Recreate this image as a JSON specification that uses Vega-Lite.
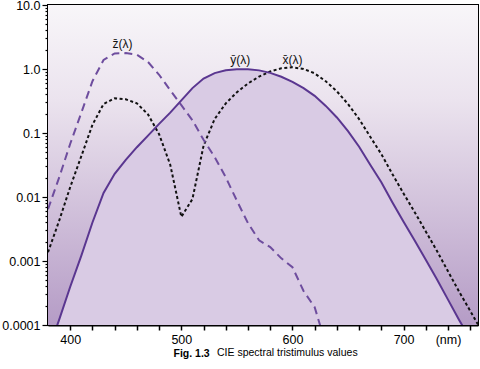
{
  "$schema": "https://vega.github.io/schema/vega-lite/v6.json",
  "width": 430,
  "height": 320,
  "autosize": {"type": "none"},
  "padding": {"left": 48, "top": 5, "right": 2, "bottom": 44},
  "background": "white",
  "config": {
    "view": {"stroke": "black", "strokeWidth": 2},
    "font": "Liberation Sans"
  },
  "title": {
    "text": "CIE spectral tristimulus values",
    "orient": "bottom",
    "anchor": "start",
    "frame": "group",
    "dx": 169,
    "dy": -3,
    "offset": 0,
    "fontSize": 10.5,
    "fontWeight": "normal",
    "color": "black",
    "baseline": "alphabetic"
  },
  "data": {
    "values": [
      {"nm": 380, "x": 0.001368, "y": 0.000039, "z": 0.00645},
      {"nm": 390, "x": 0.004243, "y": 0.00012, "z": 0.02005},
      {"nm": 400, "x": 0.01431, "y": 0.000396, "z": 0.06785},
      {"nm": 410, "x": 0.04351, "y": 0.00121, "z": 0.2074},
      {"nm": 420, "x": 0.13438, "y": 0.004, "z": 0.6456},
      {"nm": 430, "x": 0.2839, "y": 0.0116, "z": 1.3856},
      {"nm": 440, "x": 0.34828, "y": 0.023, "z": 1.74706},
      {"nm": 450, "x": 0.3362, "y": 0.038, "z": 1.77211},
      {"nm": 460, "x": 0.2908, "y": 0.06, "z": 1.6692},
      {"nm": 470, "x": 0.19536, "y": 0.09098, "z": 1.28764},
      {"nm": 480, "x": 0.09564, "y": 0.13902, "z": 0.81295},
      {"nm": 490, "x": 0.03201, "y": 0.20802, "z": 0.46518},
      {"nm": 500, "x": 0.0049, "y": 0.323, "z": 0.272},
      {"nm": 510, "x": 0.0093, "y": 0.503, "z": 0.1582},
      {"nm": 520, "x": 0.06327, "y": 0.71, "z": 0.07825},
      {"nm": 530, "x": 0.1655, "y": 0.862, "z": 0.04216},
      {"nm": 540, "x": 0.2904, "y": 0.954, "z": 0.0203},
      {"nm": 550, "x": 0.43345, "y": 0.99495, "z": 0.00875},
      {"nm": 560, "x": 0.5945, "y": 0.995, "z": 0.0039},
      {"nm": 570, "x": 0.7621, "y": 0.952, "z": 0.0021},
      {"nm": 580, "x": 0.9163, "y": 0.87, "z": 0.00165},
      {"nm": 590, "x": 1.0263, "y": 0.757, "z": 0.0011},
      {"nm": 600, "x": 1.0622, "y": 0.631, "z": 0.0008},
      {"nm": 610, "x": 1.0026, "y": 0.503, "z": 0.00034},
      {"nm": 620, "x": 0.85445, "y": 0.381, "z": 0.00019},
      {"nm": 630, "x": 0.6424, "y": 0.265, "z": 0.00005},
      {"nm": 640, "x": 0.4479, "y": 0.175, "z": 0.00002},
      {"nm": 650, "x": 0.2835, "y": 0.107, "z": null},
      {"nm": 660, "x": 0.1649, "y": 0.061, "z": null},
      {"nm": 670, "x": 0.0874, "y": 0.032, "z": null},
      {"nm": 680, "x": 0.04677, "y": 0.017, "z": null},
      {"nm": 690, "x": 0.0227, "y": 0.00821, "z": null},
      {"nm": 700, "x": 0.011359, "y": 0.004102, "z": null},
      {"nm": 710, "x": 0.00579, "y": 0.002091, "z": null},
      {"nm": 720, "x": 0.002899, "y": 0.001047, "z": null},
      {"nm": 730, "x": 0.00144, "y": 0.00052, "z": null},
      {"nm": 740, "x": 0.00069, "y": 0.000249, "z": null},
      {"nm": 750, "x": 0.000332, "y": 0.00012, "z": null},
      {"nm": 760, "x": 0.000166, "y": 0.00006, "z": null},
      {"nm": 770, "x": 0.000083, "y": 0.00003, "z": null}
    ]
  },
  "layer": [
    {
      "data": {"values": [{"band": "plot"}]},
      "mark": {
        "type": "rect",
        "color": {
          "gradient": "linear",
          "x1": 0, "y1": 0, "x2": 0, "y2": 1,
          "stops": [
            {"offset": 0, "color": "#f8f6f9"},
            {"offset": 0.3, "color": "#ebe3ee"},
            {"offset": 1, "color": "#b59cc6"}
          ]
        }
      },
      "encoding": {}
    },
    {
      "mark": {"type": "area", "color": "#d9cbe4", "clip": true},
      "encoding": {
        "x": {
          "field": "nm",
          "type": "quantitative",
          "scale": {"domain": [380, 767], "nice": false, "zero": false},
          "axis": {
            "values": [400, 420, 440, 460, 480, 500, 520, 540, 560, 580, 600, 620, 640, 660, 680, 700, 720, 740, 760],
            "tickCount": 200,
            "format": "d",
            "labelExpr": "datum.value == 740 ? '(nm)' : (datum.value % 100 == 0 ? datum.label : '')",
            "labelFlush": false,
            "labelOverlap": false,
            "labelFontSize": 12.5,
            "labelColor": "black",
            "labelPadding": 3,
            "tickSize": 5,
            "tickColor": "black",
            "tickWidth": 1.5,
            "domainColor": "black",
            "domainWidth": 2,
            "grid": false,
            "title": "Fig. 1.3",
            "titleFontWeight": "bold",
            "titleFontSize": 10.5,
            "titleColor": "black",
            "titleAnchor": "start",
            "titleAlign": "left",
            "titleX": 125,
            "titleY": 31,
            "titleBaseline": "alphabetic"
          }
        },
        "y": {
          "field": "y",
          "type": "quantitative",
          "scale": {"type": "log", "domain": [0.0001, 10], "nice": false},
          "axis": {
            "values": [0.0001, 0.0002, 0.0003, 0.0004, 0.0005, 0.0006, 0.0007, 0.0008, 0.0009,
                       0.001, 0.002, 0.003, 0.004, 0.005, 0.006, 0.007, 0.008, 0.009,
                       0.01, 0.02, 0.03, 0.04, 0.05, 0.06, 0.07, 0.08, 0.09,
                       0.1, 0.2, 0.3, 0.4, 0.5, 0.6, 0.7, 0.8, 0.9,
                       1, 2, 3, 4, 5, 6, 7, 8, 9, 10],
            "tickCount": 200,
            "labelExpr": "datum.value == 10 ? '10.0' : datum.value == 1 ? '1.0' : datum.value == 0.1 ? '0.1' : datum.value == 0.01 ? '0.01' : datum.value == 0.001 ? '0.001' : datum.value == 0.0001 ? '0.0001' : ''",
            "labelOverlap": false,
            "labelFlush": false,
            "labelFontSize": 12.5,
            "labelColor": "black",
            "labelPadding": 2,
            "tickSize": {"condition": {"test": "indexof([10, 1, 0.1, 0.01, 0.001, 0.0001], datum.value) >= 0", "value": 6}, "value": 3},
            "tickColor": "black",
            "tickWidth": 1.2,
            "domainColor": "black",
            "domainWidth": 2,
            "grid": false,
            "title": null
          }
        },
        "y2": {"datum": 0.0001}
      }
    },
    {
      "mark": {"type": "line", "color": "#111111", "strokeWidth": 2, "strokeDash": [3, 2.5], "clip": true},
      "encoding": {
        "x": {"field": "nm", "type": "quantitative"},
        "y": {"field": "x", "type": "quantitative"}
      }
    },
    {
      "mark": {"type": "line", "color": "#6e4d9e", "strokeWidth": 2, "strokeDash": [8, 5], "clip": true},
      "encoding": {
        "x": {"field": "nm", "type": "quantitative"},
        "y": {"field": "z", "type": "quantitative"}
      }
    },
    {
      "mark": {"type": "line", "color": "#5a3690", "strokeWidth": 2, "clip": true},
      "encoding": {
        "x": {"field": "nm", "type": "quantitative"},
        "y": {"field": "y", "type": "quantitative"}
      }
    },
    {
      "data": {
        "values": [
          {"nm": 447, "v": 2.45, "t": "z̄(λ)"},
          {"nm": 553, "v": 1.38, "t": "ȳ(λ)"},
          {"nm": 600, "v": 1.38, "t": "x̄(λ)"}
        ]
      },
      "mark": {"type": "text", "fontSize": 12, "color": "#111111", "align": "center", "baseline": "middle"},
      "encoding": {
        "x": {"field": "nm", "type": "quantitative"},
        "y": {"field": "v", "type": "quantitative"},
        "text": {"field": "t"}
      }
    }
  ]
}
